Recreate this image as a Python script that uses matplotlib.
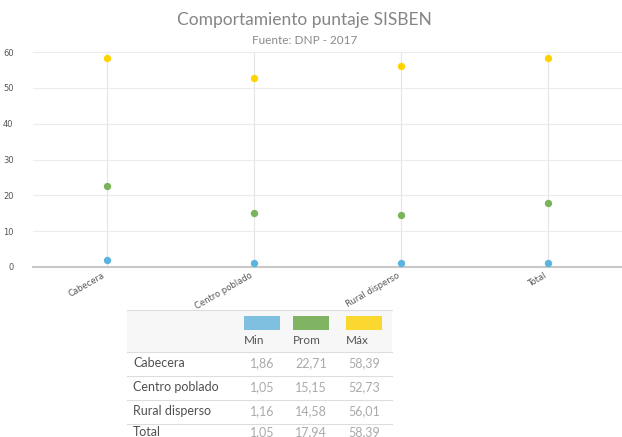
import matplotlib.pyplot as plt
from matplotlib.patches import Rectangle
from matplotlib.lines import Line2D

categories = ['Cabecera', 'Centro poblado', 'Rural disperso', 'Total']
min_vals = [1.86, 1.05, 1.16, 1.05]
prom_vals = [22.71, 15.15, 14.58, 17.94]
max_vals = [58.39, 52.73, 56.01, 58.39]
series_names = ['Min', 'Prom', 'Máx']
yticks = [0, 10, 20, 30, 40, 50, 60]

point_colors = ['#5ab4e0', '#79b35a', '#ffd200']
swatch_colors = ['#7fbfe0', '#80b462', '#fbd830']

plt.rcParams['font.family'] = ['Lato', 'DejaVu Sans']
W, H = 622, 437
fig = plt.figure(figsize=(W / 100, H / 100), dpi=100)

def fx(px):
    return px / W

def fy(py):
    return 1 - py / H

ax = fig.add_axes([fx(33), fy(267), 1 - fx(33), fy(52) - fy(267)])
x = range(len(categories))
for vals, c in zip([min_vals, prom_vals, max_vals], point_colors):
    ax.scatter(x, vals, s=28, color=c, zorder=3, linewidths=0)

ax.set_xlim(-0.5, len(categories) - 0.5)
ax.set_ylim(0, 60)
ax.set_yticks(yticks)
ax.set_xticks(list(x))
ax.set_xticklabels(categories, rotation=30, ha='right', fontsize=6, color='#555555',
                   family=['DejaVu Sans'])
ax.tick_params(axis='y', labelsize=6, colors='#555555', length=0, pad=14)
ax.tick_params(axis='x', length=0, pad=3)
for t in ax.get_yticklabels():
    t.set_family(['DejaVu Sans'])
ax.grid(axis='y', color='#ececec', lw=0.8)
ax.grid(axis='x', color='#e4e4e4', lw=0.8)
ax.set_axisbelow(True)
for s in ['top', 'right', 'left']:
    ax.spines[s].set_visible(False)
ax.spines['bottom'].set_color('#c8c8c8')
ax.spines['bottom'].set_linewidth(1.5)

fig.text(0.49, fy(20), 'Comportamiento puntaje SISBEN', ha='center', va='center',
         fontsize=12.5, color='#858585')
fig.text(0.49, fy(40), 'Fuente: DNP - 2017', ha='center', va='center',
         fontsize=8.5, color='#8a8a8a')

# table
tx0, tx1 = 127, 392
fig.patches.append(Rectangle((fx(tx0), fy(352)), fx(tx1) - fx(tx0), fy(310) - fy(352),
                             transform=fig.transFigure, facecolor='#f7f7f7', edgecolor='none'))
col_x = [244, 293, 346]
for cx, c, name in zip(col_x, swatch_colors, series_names):
    fig.patches.append(Rectangle((fx(cx), fy(330)), fx(36), fy(316) - fy(330),
                                 transform=fig.transFigure, facecolor=c, edgecolor='none'))
    fig.text(fx(cx), fy(340), name, ha='left', va='center', fontsize=8.5, color='#555555')

row_lines = [310, 352, 376, 400, 424]
for ly in row_lines:
    fig.lines.append(Line2D([fx(tx0), fx(tx1)], [fy(ly), fy(ly)], transform=fig.transFigure,
                            color='#dddddd', lw=0.8))

row_y = [363, 387, 411, 432]
for i, cat in enumerate(categories):
    fig.text(fx(133), fy(row_y[i]), cat, ha='left', va='center', fontsize=9, color='#505050')
    for cx, vals in zip(col_x, [min_vals, prom_vals, max_vals]):
        fig.text(fx(cx + 18), fy(row_y[i]), f'{vals[i]:.2f}'.replace('.', ','), ha='center',
                 va='center', fontsize=9, color='#aaaaaa')

fig.savefig('out.png', dpi=100)
